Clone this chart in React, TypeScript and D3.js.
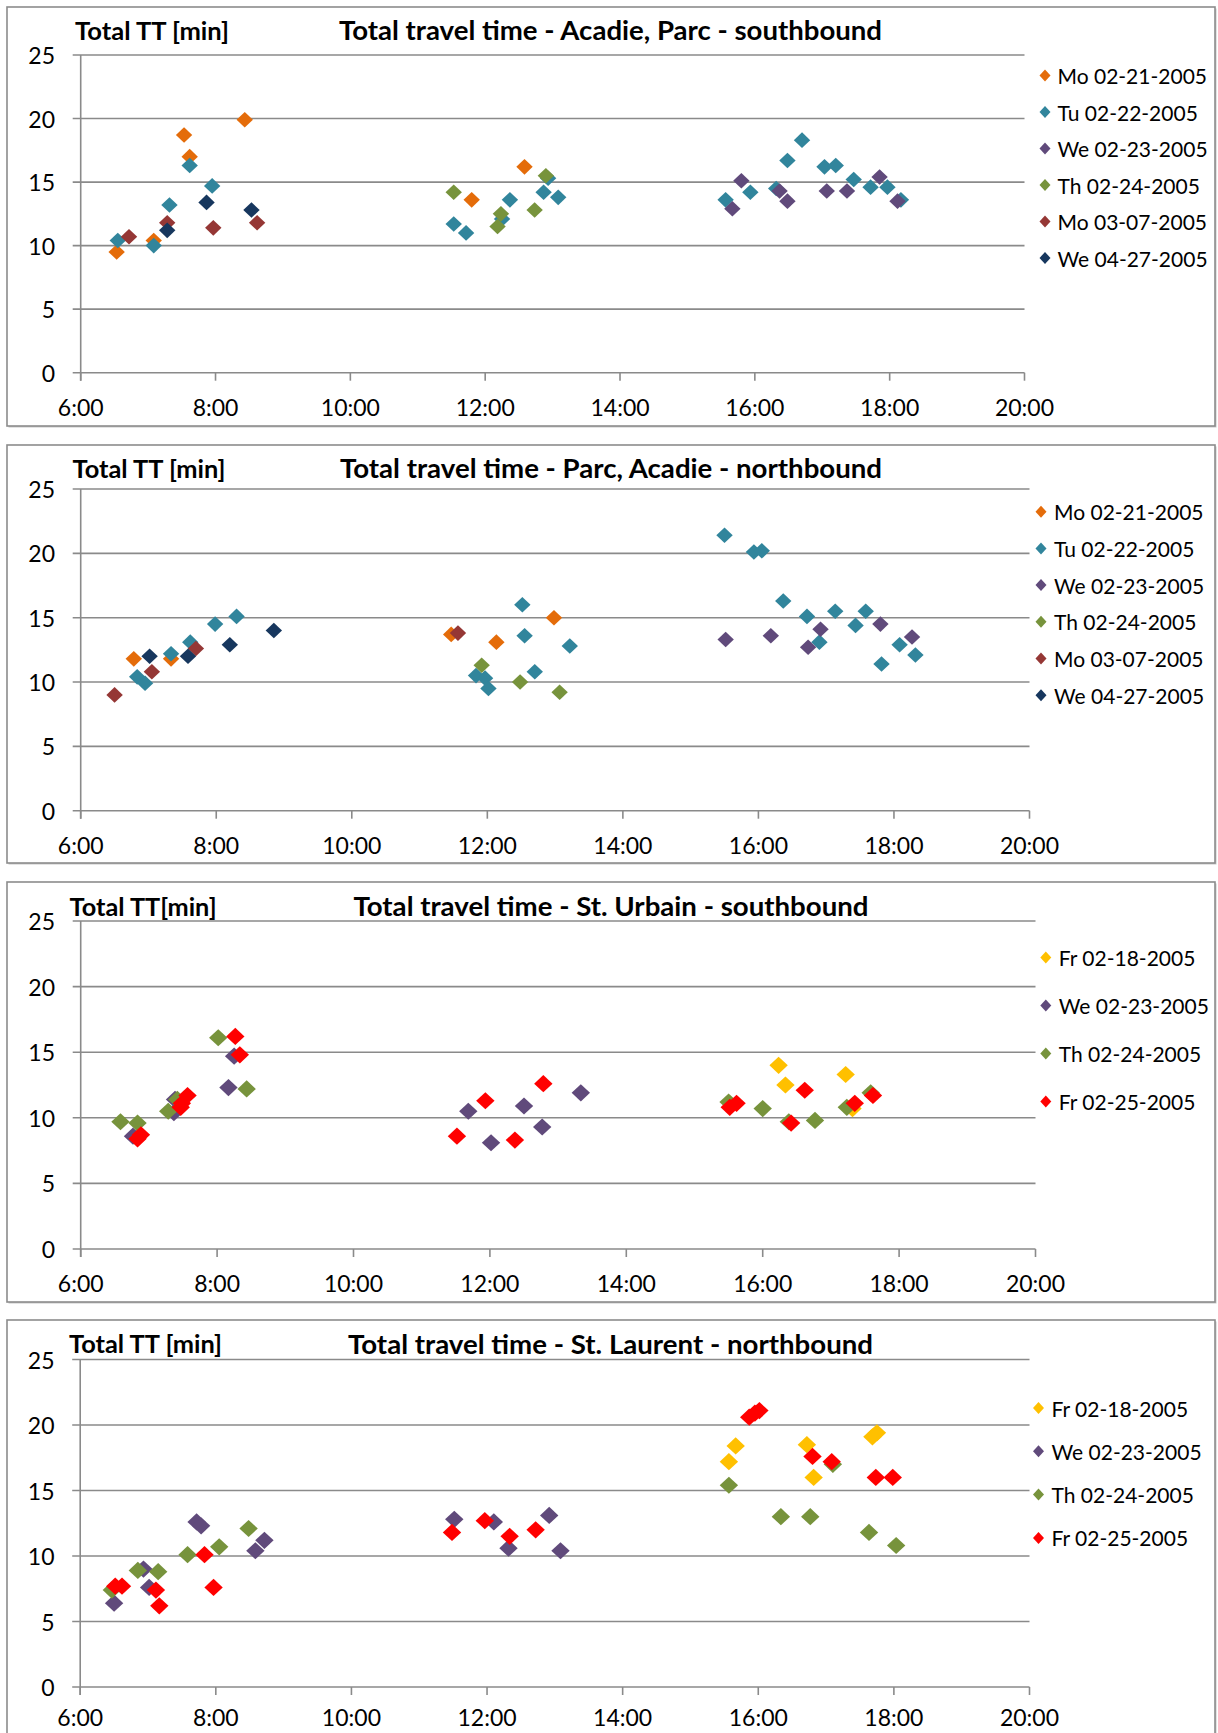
import React from "react";
import * as d3 from "d3";

// ---------- Data (time of day, total travel time in minutes) ----------
// Panel 1: Acadie, Parc - southbound
const acSbMo0221: [string, number][] = [["6:32", 9.5], ["7:05", 10.4], ["7:32", 18.7], ["7:37", 17.0], ["8:26", 19.9], ["11:48", 13.6], ["12:35", 16.2]];
const acSbTu0222: [string, number][] = [["6:33", 10.4], ["7:05", 10.0], ["7:19", 13.2], ["7:37", 16.3], ["7:57", 14.7], ["11:32", 11.7], ["11:43", 11.0], ["12:15", 12.1], ["12:22", 13.6], ["12:52", 14.2], ["12:56", 15.3], ["13:05", 13.8], ["15:34", 13.6], ["15:56", 14.2], ["16:19", 14.5], ["16:29", 16.7], ["16:42", 18.3], ["17:02", 16.2], ["17:12", 16.3], ["17:28", 15.2], ["17:43", 14.6], ["17:58", 14.6], ["18:10", 13.6]];
const acSbWe0223: [string, number][] = [["15:40", 12.9], ["15:48", 15.1], ["16:22", 14.3], ["16:29", 13.5], ["17:04", 14.3], ["17:22", 14.3], ["17:51", 15.4], ["18:07", 13.5]];
const acSbTh0224: [string, number][] = [["11:32", 14.2], ["12:11", 11.5], ["12:14", 12.5], ["12:44", 12.8], ["12:54", 15.5]];
const acSbMo0307: [string, number][] = [["6:43", 10.7], ["7:17", 11.8], ["7:58", 11.4], ["8:37", 11.8]];
const acSbWe0427: [string, number][] = [["7:17", 11.2], ["7:52", 13.4], ["8:32", 12.8]];

// Panel 2: Parc, Acadie - northbound
const pkNbMo0221: [string, number][] = [["6:47", 11.8], ["7:20", 11.8], ["11:28", 13.7], ["12:08", 13.1], ["12:59", 15.0]];
const pkNbTu0222: [string, number][] = [["6:50", 10.4], ["6:57", 9.9], ["7:20", 12.2], ["7:37", 13.1], ["7:59", 14.5], ["8:18", 15.1], ["11:50", 10.5], ["11:58", 10.3], ["12:01", 9.5], ["12:31", 16.0], ["12:33", 13.6], ["12:42", 10.8], ["13:13", 12.8], ["15:30", 21.4], ["15:56", 20.1], ["16:03", 20.2], ["16:22", 16.3], ["16:43", 15.1], ["16:54", 13.1], ["17:08", 15.5], ["17:26", 14.4], ["17:35", 15.5], ["17:49", 11.4], ["18:05", 12.9], ["18:19", 12.1]];
const pkNbWe0223: [string, number][] = [["15:31", 13.3], ["16:11", 13.6], ["16:44", 12.7], ["16:55", 14.1], ["17:48", 14.5], ["18:16", 13.5]];
const pkNbTh0224: [string, number][] = [["11:55", 11.3], ["12:29", 10.0], ["13:04", 9.2]];
const pkNbMo0307: [string, number][] = [["6:30", 9.0], ["7:03", 10.8], ["7:42", 12.6], ["11:34", 13.8]];
const pkNbWe0427: [string, number][] = [["7:01", 12.0], ["7:35", 12.0], ["8:12", 12.9], ["8:51", 14.0]];

// Panel 3: St. Urbain - southbound
const suSbFr0218: [string, number][] = [["16:14", 14.0], ["16:20", 12.5], ["17:13", 13.3], ["17:19", 10.7]];
const suSbWe0223: [string, number][] = [["6:46", 8.6], ["7:22", 10.4], ["7:23", 11.4], ["8:10", 12.3], ["8:15", 14.7], ["11:41", 10.5], ["12:01", 8.1], ["12:30", 10.9], ["12:46", 9.3], ["13:20", 11.9]];
const suSbTh0224: [string, number][] = [["6:35", 9.7], ["6:50", 9.6], ["7:17", 10.5], ["7:25", 11.4], ["8:01", 16.1], ["8:26", 12.2], ["15:30", 11.2], ["16:00", 10.7], ["16:23", 9.7], ["16:46", 9.8], ["17:14", 10.8], ["17:35", 11.9]];
const suSbFr0225: [string, number][] = [["6:50", 8.4], ["6:53", 8.7], ["7:28", 10.8], ["7:29", 11.1], ["7:34", 11.7], ["8:16", 16.2], ["8:20", 14.8], ["11:31", 8.6], ["11:56", 11.3], ["12:22", 8.3], ["12:47", 12.6], ["15:31", 10.8], ["15:37", 11.1], ["16:25", 9.6], ["16:37", 12.1], ["17:21", 11.1], ["17:37", 11.7]];

// Panel 4: St. Laurent - northbound
const slNbFr0218: [string, number][] = [["15:34", 17.2], ["15:40", 18.4], ["16:43", 18.5], ["16:49", 16.0], ["17:41", 19.1], ["17:45", 19.4]];
const slNbWe0223: [string, number][] = [["6:30", 6.4], ["6:56", 9.0], ["7:01", 7.6], ["7:43", 12.6], ["7:47", 12.3], ["8:35", 10.4], ["8:43", 11.2], ["11:31", 12.8], ["12:06", 12.6], ["12:19", 10.6], ["12:55", 13.1], ["13:05", 10.4]];
const slNbTh0224: [string, number][] = [["6:28", 7.4], ["6:51", 8.9], ["7:09", 8.8], ["7:35", 10.1], ["8:03", 10.7], ["8:29", 12.1], ["15:34", 15.4], ["16:20", 13.0], ["16:46", 13.0], ["17:06", 17.0], ["17:38", 11.8], ["18:02", 10.8]];
const slNbFr0225: [string, number][] = [["6:31", 7.7], ["6:37", 7.7], ["7:07", 7.4], ["7:10", 6.2], ["7:50", 10.1], ["7:58", 7.6], ["11:29", 11.8], ["11:58", 12.7], ["12:20", 11.5], ["12:43", 12.0], ["15:52", 20.6], ["15:57", 20.9], ["16:01", 21.1], ["16:48", 17.6], ["17:05", 17.2], ["17:44", 16.0], ["17:59", 16.0]];

const yTicks = [0, 5, 10, 15, 20, 25];
const xTickLabels = ["6:00", "8:00", "10:00", "12:00", "14:00", "16:00", "18:00", "20:00"];

const titles = [
  "Total travel time - Acadie, Parc - southbound",
  "Total travel time - Parc, Acadie - northbound",
  "Total travel time - St. Urbain - southbound",
  "Total travel time - St. Laurent - northbound",
];
const yTitles = ["Total TT [min]", "Total TT [min]", "Total TT[min]", "Total TT [min]"];

const COL = {
  orange: "#E46C0A",
  teal: "#31859C",
  purple: "#604A7B",
  green: "#77933C",
  brown: "#953735",
  navy: "#17375E",
  yellow: "#FFC000",
  red: "#FF0000",
};

const parseT = d3.timeParse("%H:%M");
const FONT = "Lato, 'Open Sans', sans-serif";
const GRID = "#8a8a8a";

type Series = { name: string; color: string; data: [string, number][] };
type Panel = {
  title: string;
  yTitle: string;
  box: [number, number, number, number];
  plot: { x0: number; x1: number; yTop: number; yBot: number };
  xLabelOff: number;
  titleCx: number;
  titleCy: number;
  titleW: number;
  yTitleX: number;
  yTitleW: number;
  legend: { mx: number; tx: number; y0: number; dy: number };
  mw: number;
  mh: number;
  series: Series[];
};

const panels: Panel[] = [
  {
    title: titles[0], yTitle: yTitles[0],
    box: [7, 7, 1208, 419],
    plot: { x0: 80.7, x1: 1024.5, yTop: 55, yBot: 372.7 }, xLabelOff: 34,
    titleCx: 610.5, titleCy: 30, titleW: 543, yTitleX: 75, yTitleW: 154,
    legend: { mx: 1045, tx: 1057.5, y0: 75.5, dy: 36.5 },
    mw: 8.2, mh: 7.8,
    series: [
      { name: "Mo 02-21-2005", color: COL.orange, data: acSbMo0221 },
      { name: "Tu 02-22-2005", color: COL.teal, data: acSbTu0222 },
      { name: "We 02-23-2005", color: COL.purple, data: acSbWe0223 },
      { name: "Th 02-24-2005", color: COL.green, data: acSbTh0224 },
      { name: "Mo 03-07-2005", color: COL.brown, data: acSbMo0307 },
      { name: "We 04-27-2005", color: COL.navy, data: acSbWe0427 },
    ],
  },
  {
    title: titles[1], yTitle: yTitles[1],
    box: [7, 445, 1208, 418],
    plot: { x0: 80.7, x1: 1029.5, yTop: 489, yBot: 810.7 }, xLabelOff: 34,
    titleCx: 611, titleCy: 468, titleW: 542, yTitleX: 72.5, yTitleW: 153,
    legend: { mx: 1041, tx: 1054, y0: 511.7, dy: 36.7 },
    mw: 8.2, mh: 7.8,
    series: [
      { name: "Mo 02-21-2005", color: COL.orange, data: pkNbMo0221 },
      { name: "Tu 02-22-2005", color: COL.teal, data: pkNbTu0222 },
      { name: "We 02-23-2005", color: COL.purple, data: pkNbWe0223 },
      { name: "Th 02-24-2005", color: COL.green, data: pkNbTh0224 },
      { name: "Mo 03-07-2005", color: COL.brown, data: pkNbMo0307 },
      { name: "We 04-27-2005", color: COL.navy, data: pkNbWe0427 },
    ],
  },
  {
    title: titles[2], yTitle: yTitles[2],
    box: [7, 882, 1208, 420],
    plot: { x0: 80.7, x1: 1035.5, yTop: 921, yBot: 1249 }, xLabelOff: 34,
    titleCx: 611, titleCy: 906, titleW: 515, yTitleX: 69.6, yTitleW: 147,
    legend: { mx: 1045.8, tx: 1058.8, y0: 957.5, dy: 48 },
    mw: 9.2, mh: 8.6,
    series: [
      { name: "Fr 02-18-2005", color: COL.yellow, data: suSbFr0218 },
      { name: "We 02-23-2005", color: COL.purple, data: suSbWe0223 },
      { name: "Th 02-24-2005", color: COL.green, data: suSbTh0224 },
      { name: "Fr 02-25-2005", color: COL.red, data: suSbFr0225 },
    ],
  },
  {
    title: titles[3], yTitle: yTitles[3],
    box: [7, 1320, 1208, 440],
    plot: { x0: 80.2, x1: 1029.5, yTop: 1359.5, yBot: 1687 }, xLabelOff: 29.5,
    titleCx: 610.5, titleCy: 1343.5, titleW: 525, yTitleX: 69, yTitleW: 153,
    legend: { mx: 1038.5, tx: 1051.5, y0: 1408, dy: 43.3 },
    mw: 9.2, mh: 8.6,
    series: [
      { name: "Fr 02-18-2005", color: COL.yellow, data: slNbFr0218 },
      { name: "We 02-23-2005", color: COL.purple, data: slNbWe0223 },
      { name: "Th 02-24-2005", color: COL.green, data: slNbTh0224 },
      { name: "Fr 02-25-2005", color: COL.red, data: slNbFr0225 },
    ],
  },
];

const diamond = (w: number, h: number) => `M0,${-h}L${w},0L0,${h}L${-w},0Z`;

function ChartPanel({ p }: { p: Panel }) {
  const x = d3.scaleTime().domain([parseT("6:00")!, parseT("20:00")!]).range([p.plot.x0, p.plot.x1]);
  const y = d3.scaleLinear().domain([0, 25]).range([p.plot.yBot, p.plot.yTop]);
  const xt = xTickLabels.map((s) => parseT(s)!);
  const fmt = d3.timeFormat("%-H:%M");
  const [bx, by, bw, bh] = p.box;
  return (
    <g>
      <rect x={bx + 1.5} y={by + 1.5} width={bw} height={bh} fill="#c8c8c8" />
      <rect x={bx} y={by} width={bw} height={bh} fill="#ffffff" stroke="#8c8c8c" strokeWidth={1.6} />
      {yTicks.map((t) => (
        <g key={"y" + t}>
          <line x1={p.plot.x0 - 8} x2={p.plot.x1} y1={y(t)} y2={y(t)} stroke={GRID} strokeWidth={1.6} />
          <text x={p.plot.x0 - 25.7} y={y(t)} textAnchor="end" dominantBaseline="central" fontFamily={FONT} fontSize={23} fill="#000">
            {t}
          </text>
        </g>
      ))}
      <line x1={p.plot.x0} x2={p.plot.x0} y1={p.plot.yTop} y2={p.plot.yBot + 8} stroke={GRID} strokeWidth={1.6} />
      {xt.map((t, i) => (
        <g key={"x" + i}>
          <line x1={x(t)} x2={x(t)} y1={p.plot.yBot} y2={p.plot.yBot + 8} stroke={GRID} strokeWidth={1.6} />
          <text x={x(t)} y={p.plot.yBot + p.xLabelOff} textAnchor="middle" dominantBaseline="central" fontFamily={FONT} fontSize={23} fill="#000">
            {fmt(t)}
          </text>
        </g>
      ))}
      <text x={p.yTitleX} y={p.titleCy} dominantBaseline="central" fontFamily={FONT} fontWeight="bold" fontSize={24}
        textLength={p.yTitleW} lengthAdjust="spacingAndGlyphs" fill="#000">
        {p.yTitle}
      </text>
      <text x={p.titleCx} y={p.titleCy} textAnchor="middle" dominantBaseline="central" fontFamily={FONT} fontWeight="bold" fontSize={26}
        textLength={p.titleW} lengthAdjust="spacingAndGlyphs" fill="#000">
        {p.title}
      </text>
      {p.series.map((s) => (
        <g key={s.name}>
          {s.data.map((d, i) => (
            <path
              key={i}
              d={diamond(p.mw, p.mh)}
              transform={`translate(${x(parseT(d[0])!)},${y(d[1])})`}
              fill={s.color}
            />
          ))}
        </g>
      ))}
      {p.series.map((s, i) => (
        <g key={"l" + s.name} transform={`translate(0,${p.legend.y0 + i * p.legend.dy})`}>
          <path d={diamond(5.5, 6)} transform={`translate(${p.legend.mx},0)`} fill={s.color} />
          <text x={p.legend.tx} y={0} dominantBaseline="central" fontFamily={FONT} fontSize={21} fill="#000">
            {s.name}
          </text>
        </g>
      ))}
    </g>
  );
}

export default function App() {
  return (
    <svg
      width={1218}
      height={1733}
      viewBox="0 0 1218 1733"
      style={{ position: "absolute", left: 0, top: 0, background: "#fff" }}
    >
      <rect x={0} y={0} width={1218} height={1733} fill="#fff" />
      {panels.map((p, i) => (
        <ChartPanel key={i} p={p} />
      ))}
    </svg>
  );
}
